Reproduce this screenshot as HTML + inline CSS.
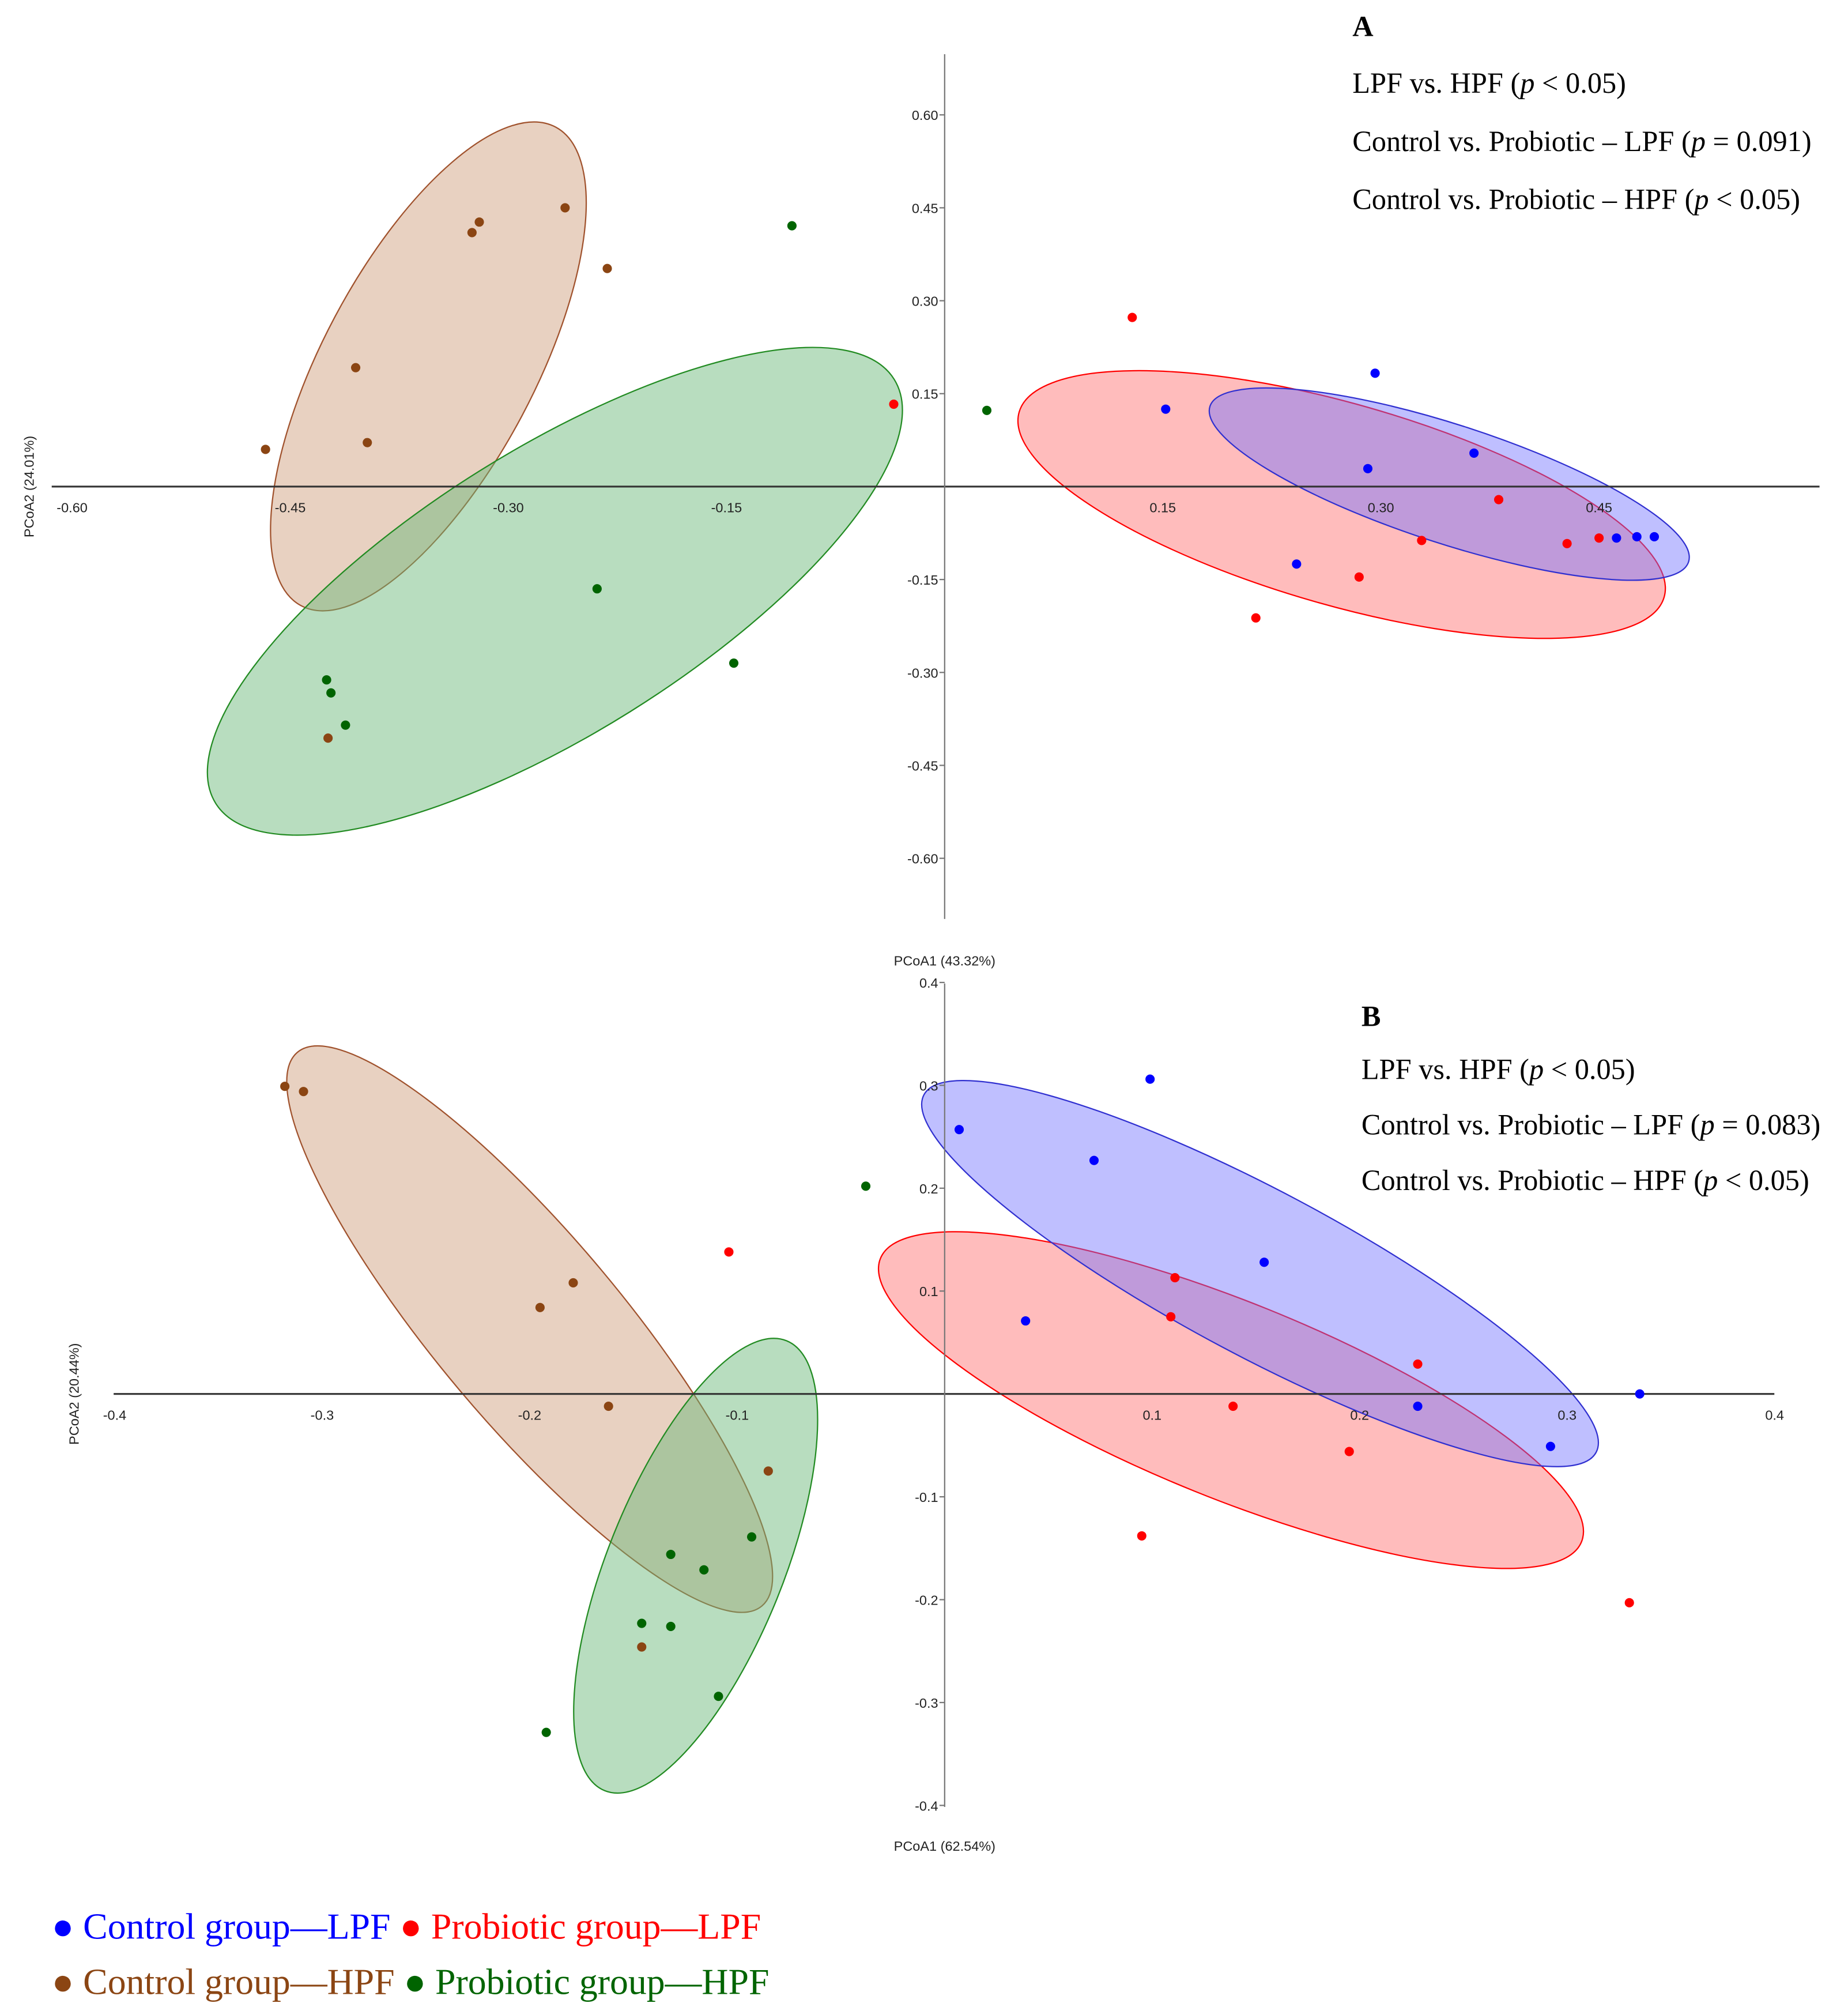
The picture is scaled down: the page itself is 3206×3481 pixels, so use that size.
<!DOCTYPE html>
<html><head><meta charset="utf-8"><style>
html,body{margin:0;padding:0;background:#fff;}
svg{display:block;}
.tick{font-family:"Liberation Sans",sans-serif;font-size:10.5px;fill:#222;}
.ann{font-family:"Liberation Serif",serif;font-size:22.5px;fill:#000;}
.leg{font-family:"Liberation Serif",serif;font-size:28.5px;}
</style></head><body>
<svg id="chart" width="3206" height="3481" viewBox="0 0 1432 1555" xmlns="http://www.w3.org/2000/svg">
<g id="panelA"></g>
<g id="panelB"></g>
<text class="ann" x="1048" y="28" font-weight="bold" font-size="25">A</text>
<text class="ann" x="1048" y="72">LPF vs. HPF (<tspan font-style="italic">p</tspan> &lt; 0.05)</text>
<text class="ann" x="1048" y="117">Control vs. Probiotic – LPF (<tspan font-style="italic">p</tspan> = 0.091)</text>
<text class="ann" x="1048" y="162">Control vs. Probiotic – HPF (<tspan font-style="italic">p</tspan> &lt; 0.05)</text>
<text class="ann" x="1055" y="795" font-weight="bold" font-size="25">B</text>
<text class="ann" x="1055" y="836">LPF vs. HPF (<tspan font-style="italic">p</tspan> &lt; 0.05)</text>
<text class="ann" x="1055" y="879">Control vs. Probiotic – LPF (<tspan font-style="italic">p</tspan> = 0.083)</text>
<text class="ann" x="1055" y="922">Control vs. Probiotic – HPF (<tspan font-style="italic">p</tspan> &lt; 0.05)</text>
<g>
<text class="leg" x="40" y="1502"><tspan fill="#0000ff">● Control group—LPF</tspan> <tspan fill="#ff0000">● Probiotic group—LPF</tspan></text>
<text class="leg" x="40" y="1545"><tspan fill="#8b4513">● Control group—HPF</tspan> <tspan fill="#006400">● Probiotic group—HPF</tspan></text>
</g>
</svg>
<script>
// ---------- Panel A data ----------
const aXTicks = [-0.60,-0.45,-0.30,-0.15,0.15,0.30,0.45];
const aYTicks = [0.60,0.45,0.30,0.15,-0.15,-0.30,-0.45,-0.60];
const aControlHpfX = [-0.467,-0.405,-0.397,-0.325,-0.320,-0.261,-0.232,-0.424];
const aControlHpfY = [0.060,0.192,0.071,0.410,0.427,0.450,0.352,-0.406];
const aProbioticHpfX = [-0.105,0.029,-0.239,-0.145,-0.425,-0.422,-0.412];
const aProbioticHpfY = [0.421,0.123,-0.165,-0.285,-0.312,-0.333,-0.385];
const aProbioticLpfX = [0.129,-0.035,0.381,0.328,0.428,0.450,0.285,0.214];
const aProbioticLpfY = [0.273,0.133,-0.021,-0.087,-0.092,-0.083,-0.146,-0.212];
const aControlLpfX = [0.296,0.152,0.291,0.364,0.242,0.462,0.476,0.488];
const aControlLpfY = [0.183,0.125,0.029,0.054,-0.125,-0.083,-0.081,-0.081];
// ---------- Panel B data ----------
const bXTicks = [-0.4,-0.3,-0.2,-0.1,0.1,0.2,0.3,0.4];
const bYTicks = [0.4,0.3,0.2,0.1,-0.1,-0.2,-0.3,-0.4];
const bControlHpfX = [-0.318,-0.309,-0.179,-0.195,-0.162,-0.085,-0.146];
const bControlHpfY = [0.299,0.294,0.108,0.084,-0.012,-0.075,-0.246];
const bProbioticHpfX = [-0.038,-0.093,-0.132,-0.116,-0.146,-0.132,-0.109,-0.192];
const bProbioticHpfY = [0.202,-0.139,-0.156,-0.171,-0.223,-0.226,-0.294,-0.329];
const bProbioticLpfX = [-0.104,0.111,0.109,0.228,0.139,0.195,0.095,0.330];
const bProbioticLpfY = [0.138,0.113,0.075,0.029,-0.012,-0.056,-0.138,-0.203];
const bControlLpfX = [0.099,0.007,0.072,0.154,0.039,0.228,0.292,0.335];
const bControlLpfY = [0.306,0.257,0.227,0.128,0.071,-0.012,-0.051,0.000];

const NS = "http://www.w3.org/2000/svg";
function mk(tag, attrs, parent){const e=document.createElementNS(NS,tag);for(const k in attrs)e.setAttribute(k,attrs[k]);parent.appendChild(e);return e;}

function drawPanel(g, cfg){
  const sx = v => cfg.ox + v*cfg.kx;
  const sy = v => cfg.oy - v*cfg.ky;
  cfg.ellipses.forEach(el=>{
    const e=mk('ellipse',{cx:sx(el.cx),cy:sy(el.cy),rx:el.rx,ry:el.ry,transform:`rotate(${el.ang} ${sx(el.cx)} ${sy(el.cy)})`,fill:el.fill,'fill-opacity':el.op,stroke:el.stroke,'stroke-width':1},g);
    
    
  });
  const xa=mk('line',{x1:cfg.xl,x2:cfg.xr,y1:cfg.oy,y2:cfg.oy,stroke:'#333','stroke-width':1.4},g);
  
  
  const ya=mk('line',{x1:cfg.ox,x2:cfg.ox,y1:cfg.yTop,y2:cfg.yBot,stroke:'#777','stroke-width':1},g);
  
  
  cfg.xTicks.forEach(v=>{
    const t=mk('text',{x:sx(v),y:cfg.oy+20,'text-anchor':'middle',class:'tick'},g);
    t.textContent=v.toFixed(cfg.dec);
    
    
  });
  cfg.yTicks.forEach(v=>{
    mk('line',{x1:cfg.ox-4,x2:cfg.ox,y1:sy(v),y2:sy(v),stroke:'#777','stroke-width':1},g);
    const t=mk('text',{x:cfg.ox-5,y:sy(v)+4,'text-anchor':'end',class:'tick'},g);
    t.textContent=v.toFixed(cfg.dec);
    
    
  });
  const xl=mk('text',{x:cfg.ox,y:cfg.xly,'text-anchor':'middle',class:'tick'},g);
  xl.textContent=cfg.xlab;
  
  
  const yl=mk('text',{x:cfg.ylx,y:cfg.oy,'text-anchor':'middle',class:'tick',transform:`rotate(-90 ${cfg.ylx} ${cfg.oy})`},g);
  yl.textContent=cfg.ylab;
  
  
  cfg.series.forEach(s=>{
    s.x.forEach((v,i)=>{
      const c=mk('circle',{cx:sx(v),cy:sy(s.y[i]),r:3.6,fill:s.color},g);
      
      
    });
  });
}

const cB='#0000ff', cR='#ff0000', cBr='#8b4513', cG='#006400';
drawPanel(document.getElementById('panelA'),{
  ox:732, oy:377, kx:1127, ky:480, xl:40, xr:1410, yTop:42, yBot:712, dec:2,
  xTicks:aXTicks, yTicks:aYTicks, xlab:'PCoA1 (43.32%)', xly:748, ylab:'PCoA2 (24.01%)', ylx:26,
  ellipses:[
    {name:'ellipse-control-hpf',cx:-0.355,cy:0.194,rx:210,ry:82,ang:-62,fill:'#c8916b',op:0.42,stroke:'#a0522d'},
    {name:'ellipse-probiotic-hpf',cx:-0.268,cy:-0.169,rx:310,ry:110,ang:-32,fill:'#6ab87a',op:0.48,stroke:'#228b22'},
    {name:'ellipse-probiotic-lpf',cx:0.273,cy:-0.029,rx:260,ry:78,ang:16,fill:'#ff6b6b',op:0.45,stroke:'#ff0000'},
    {name:'ellipse-control-lpf',cx:0.347,cy:0.004,rx:195,ry:46,ang:18,fill:'#7070ff',op:0.45,stroke:'#3030d0'}
  ],
  series:[
    {name:'control-hpf',x:aControlHpfX,y:aControlHpfY,color:cBr},
    {name:'probiotic-hpf',x:aProbioticHpfX,y:aProbioticHpfY,color:cG},
    {name:'probiotic-lpf',x:aProbioticLpfX,y:aProbioticLpfY,color:cR},
    {name:'control-lpf',x:aControlLpfX,y:aControlLpfY,color:cB}
  ]
});
drawPanel(document.getElementById('panelB'),{
  ox:732, oy:1080, kx:1608, ky:797, xl:88, xr:1375, yTop:762, yBot:1400, dec:1,
  xTicks:bXTicks, yTicks:bYTicks, xlab:'PCoA1 (62.54%)', xly:1434, ylab:'PCoA2 (20.44%)', ylx:61,
  ellipses:[
    {name:'ellipse-control-hpf',cx:-0.200,cy:0.063,rx:280,ry:72,ang:50,fill:'#c8916b',op:0.42,stroke:'#a0522d'},
    {name:'ellipse-probiotic-hpf',cx:-0.120,cy:-0.167,rx:188,ry:68,ang:-68,fill:'#6ab87a',op:0.48,stroke:'#228b22'},
    {name:'ellipse-probiotic-lpf',cx:0.138,cy:-0.006,rx:293,ry:76,ang:22,fill:'#ff6b6b',op:0.45,stroke:'#ff0000'},
    {name:'ellipse-control-lpf',cx:0.152,cy:0.117,rx:295,ry:64,ang:28,fill:'#7070ff',op:0.45,stroke:'#3030d0'}
  ],
  series:[
    {name:'control-hpf',x:bControlHpfX,y:bControlHpfY,color:cBr},
    {name:'probiotic-hpf',x:bProbioticHpfX,y:bProbioticHpfY,color:cG},
    {name:'probiotic-lpf',x:bProbioticLpfX,y:bProbioticLpfY,color:cR},
    {name:'control-lpf',x:bControlLpfX,y:bControlLpfY,color:cB}
  ]
});
</script>
</body></html>
